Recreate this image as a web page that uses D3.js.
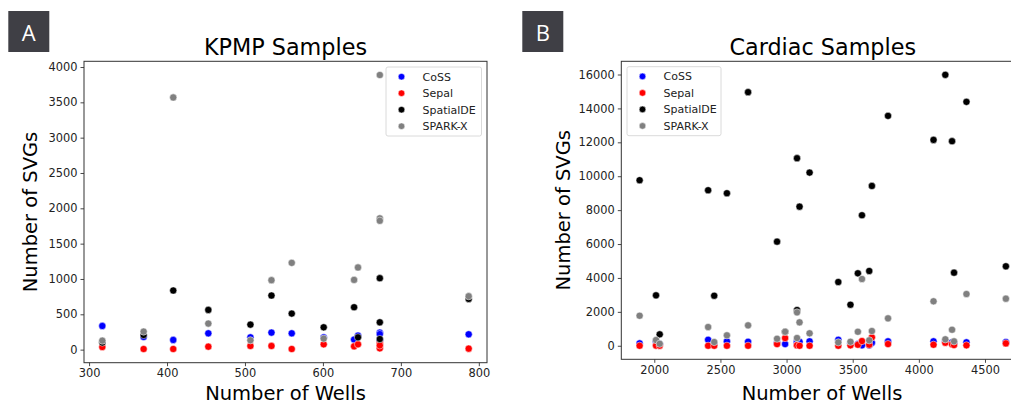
<!DOCTYPE html>
<html>
<head>
<meta charset="utf-8">
<script src="https://cdn.jsdelivr.net/npm/d3@7"></script>
<style>
  body { margin: 0; background: #fff; }
  svg { display: block; font-family: "DejaVu Sans", sans-serif; }
</style>
</head>
<body>
<svg id="chart"></svg>
<script>
// KPMP samples (panel A)
const kpmpWells     = [317, 370, 408, 453, 507, 534, 560, 601, 640, 645, 673, 673, 673, 787];
const kpmpCoSS      = [335, 179, 137, 231, 174, 241, 231, 174, 142, 198, 241, 220, 130, 217];
const kpmpSepal     = [37, 9, 9, 42, 52, 52, 9, 75, 47, 75, 94, 18, 60, 14];
const kpmpSpatialDE = [100, 207, 837, 562, 354, 766, 510, 316, 600, 174, 1011, 387, 150, 718];
const kpmpSparkX    = [127, 255, 3569, 369, 132, 983, 1228, 156, 987, 1163, 3887, 1858, 1824, 756];

// Cardiac samples (panel B)
const cardWells     = [1889, 2013, 2041, 2407, 2453, 2549, 2709, 2928, 2989, 3079, 3079, 3098, 3174,
                       3391, 3483, 3539, 3570, 3625, 3645, 3767, 4111, 4200, 4251, 4266, 4360, 4658];
const cardCoSS      = [140, 250, 100, 354, 100, 260, 236, 150, 100, 260, 200, 236, 260,
                       354, 150, 100, 24, 24, 177, 260, 260, 250, 200, 150, 201, 220];
const cardSepal     = [0, 10, 5, 0, 0, 0, 0, 100, 455, 24, 30, 0, 0,
                       0, 24, 59, 277, 60, 496, 100, 59, 177, 83, 41, 24, 140];
const cardSpatialDE = [9764, 2975, 673, 9173, 2951, 8996, 14959, 6139, 820, 11062, 2107, 8205, 10213,
                       3760, 2420, 4274, 7698, 4410, 9427, 13560, 12143, 15980, 12066, 4309, 14386, 4687];
const cardSparkX    = [1771, 336, 118, 1104, 218, 614, 1204, 413, 826, 1970, 455, 1381, 732,
                       200, 236, 826, 3937, 319, 868, 1617, 2621, 378, 944, 260, 3052, 2775];

const methods = ["CoSS", "Sepal", "SpatialDE", "SPARK-X"];
const colors  = ["#0000ff", "#ff0000", "#000000", "#808080"];

const xTicksA = [300, 400, 500, 600, 700, 800];
const yTicksA = [0, 500, 1000, 1500, 2000, 2500, 3000, 3500, 4000];
const xTicksB = [2000, 2500, 3000, 3500, 4000, 4500];
const yTicksB = [0, 2000, 4000, 6000, 8000, 10000, 12000, 14000, 16000];

const W = 1011, H = 405;
const svg = d3.select('#chart')
	.attr('width', W)
	.attr('height', H)
	.attr('viewBox', [0, 0, W, H]);
svg.append('rect').attr('width', W).attr('height', H).attr('fill', '#fff');

// matplotlib-style 5% padding round the data
function padded(vals) {
	const [lo, hi] = d3.extent(vals);
	const p = (hi - lo) * 0.05;
	return [lo - p, hi + p];
}

function panel(opt) {
	const {left, right, top, bottom} = opt.box;
	const series = [opt.coss, opt.sepal, opt.spatialde, opt.sparkx];
	const allY = series.flat();

	const x = d3.scaleLinear().domain(padded(opt.wells)).range([left, right]);
	const y = d3.scaleLinear().domain(padded(allY)).range([bottom, top]);

	const g = svg.append('g');

	// points, drawn in method order so later ones sit on top
	series.forEach((vals, k) => {
		g.append('g').selectAll('circle')
			.data(vals.map((v, i) => ({w: opt.wells[i], v: v})))
			.enter()
			.append('circle')
				.attr('cx', d => x(d.w))
				.attr('cy', d => y(d.v))
				.attr('r', 3.6)
				.attr('fill', colors[k])
				.attr('stroke', '#fff')
				.attr('stroke-width', 0.5);
	});

	// axes
	const xAxis = d3.axisBottom(x).tickValues(opt.xTicks).tickSize(3.5).tickPadding(3).tickFormat(d3.format('d'));
	const yAxis = d3.axisLeft(y).tickValues(opt.yTicks).tickSize(3.5).tickPadding(3).tickFormat(d3.format('d'));

	const gx = g.append('g').attr('transform', `translate(0,${bottom})`).call(xAxis);
	const gy = g.append('g').attr('transform', `translate(${left},0)`).call(yAxis);
	[gx, gy].forEach(a => {
		a.select('.domain').remove();
		a.selectAll('line').attr('stroke', '#333').attr('stroke-width', 0.9);
		a.selectAll('text').attr('fill', '#222').style('font-size', '11.4px')
			.style('font-family', '"DejaVu Sans", sans-serif');
	});

	// frame
	g.append('rect')
		.attr('x', left).attr('y', top)
		.attr('width', right - left).attr('height', bottom - top)
		.attr('fill', 'none').attr('stroke', '#333').attr('stroke-width', 1);

	// title and labels
	g.append('text')
		.attr('x', (left + right) / 2).attr('y', 55)
		.attr('text-anchor', 'middle')
		.style('font-size', '22.3px')
		.text(opt.title);
	g.append('text')
		.attr('x', opt.xLabelX).attr('y', 399.5)
		.attr('text-anchor', 'middle')
		.style('font-size', '19.5px')
		.text('Number of Wells');
	g.append('text')
		.attr('transform', `translate(${opt.yLabelX},${(top + bottom) / 2}) rotate(-90)`)
		.attr('text-anchor', 'middle')
		.style('font-size', '19.5px')
		.text('Number of SVGs');

	// legend
	const lg = g.append('g').attr('transform', `translate(${opt.legend[0]},${opt.legend[1]})`);
	lg.append('rect')
		.attr('width', opt.legendW).attr('height', 69)
		.attr('rx', 2)
		.attr('fill', '#fff').attr('fill-opacity', 0.8)
		.attr('stroke', '#d6d6d6').attr('stroke-width', 0.9);
	methods.forEach((m, k) => {
		const yy = 9.7 + k * 16.5;
		lg.append('circle').attr('cx', 15.5).attr('cy', yy).attr('r', 3.3)
			.attr('fill', colors[k]).attr('stroke', '#fff').attr('stroke-width', 0.5);
		lg.append('text').attr('x', 36.5).attr('y', yy + 4)
			.style('font-size', '11px').attr('fill', '#222').text(m);
	});

	// panel letter
	svg.append('rect')
		.attr('x', opt.tag[0]).attr('y', 11)
		.attr('width', 41).attr('height', 41)
		.attr('fill', '#3f3f45');
	svg.append('text')
		.attr('x', opt.tag[0] + 20.5).attr('y', 40.5)
		.attr('text-anchor', 'middle')
		.attr('fill', '#fff')
		.style('font-family', '"Open Sans", sans-serif')
		.style('font-size', '22px')
		.text(opt.letter);
}

panel({
	box: {left: 84, right: 487, top: 61.3, bottom: 362.7},
	wells: kpmpWells, coss: kpmpCoSS, sepal: kpmpSepal, spatialde: kpmpSpatialDE, sparkx: kpmpSparkX,
	xTicks: xTicksA, yTicks: yTicksA,
	title: 'KPMP Samples',
	xLabelX: 285.5, yLabelX: 37,
	legend: [386, 67], legendW: 95.5,
	tag: [8.3], letter: 'A'
});

panel({
	box: {left: 621.3, right: 1024.2, top: 61.3, bottom: 359.3},
	wells: cardWells, coss: cardCoSS, sepal: cardSepal, spatialde: cardSpatialDE, sparkx: cardSparkX,
	xTicks: xTicksB, yTicks: yTicksB,
	title: 'Cardiac Samples',
	xLabelX: 822, yLabelX: 570,
	legend: [627, 66.7], legendW: 94,
	tag: [522.3], letter: 'B'
});
</script>
</body>
</html>
